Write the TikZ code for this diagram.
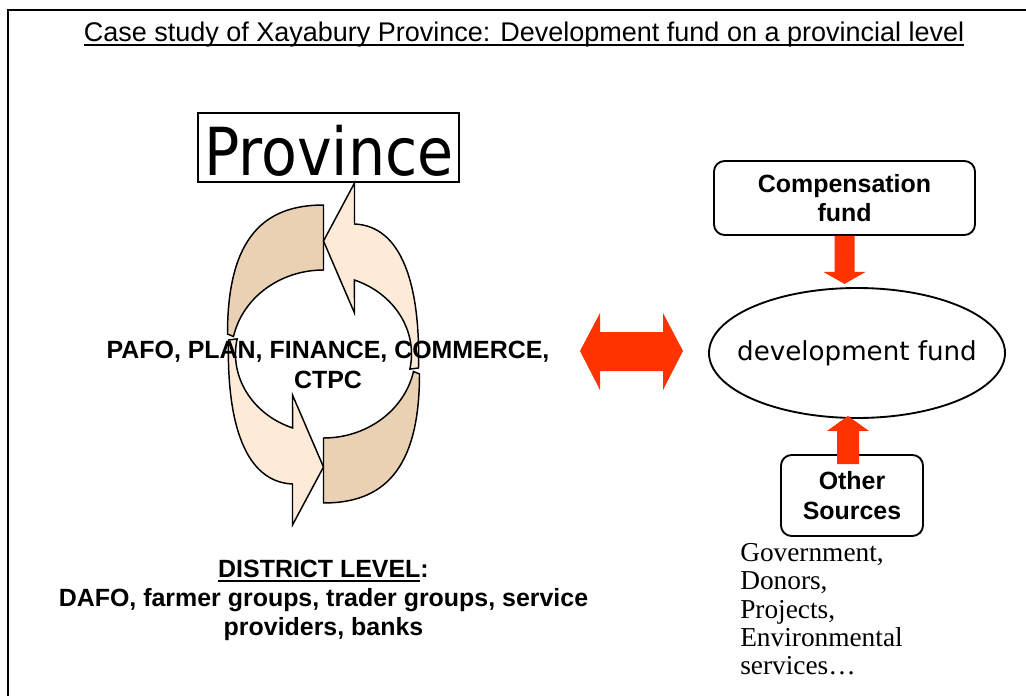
\documentclass[tikz,border=0pt]{standalone}
\usepackage{fontspec}
\setmainfont{Liberation Serif}
\setsansfont{Liberation Sans}
\newfontfamily\provfont[FakeStretch=0.885]{DejaVu Sans}
\newfontfamily\fundfont{DejaVu Sans}
\usetikzlibrary{positioning, calc, shapes.geometric}
\definecolor{loopdark}{HTML}{EAD1B3}
\definecolor{looplight}{HTML}{FDEBD7}
\definecolor{fundred}{HTML}{FF3300}
\newcommand{\ulbar}[1]{\setbox0=\hbox{#1}\rlap{\rule[-3.4pt]{\wd0}{1.3pt}}\box0}

\begin{document}
\begin{tikzpicture}[x=0.75pt, y=-0.75pt,
    every node/.style={inner sep=0pt},
    titletext/.style={font=\sffamily\fontsize{20.25}{24}\selectfont},
    boldtext/.style={font=\sffamily\bfseries\fontsize{18.7}{22}\selectfont, align=center},
    srctext/.style={font=\rmfamily\fontsize{20.5}{21.3}\selectfont, align=left},
    provbox/.style={draw, line width=1.5pt, font=\provfont\fontsize{49.7}{50}\selectfont,
                    text height=46.5pt, text depth=5.25pt, minimum width=195.75pt},
    fundbox/.style={draw, line width=1.4pt, rounded corners=8pt, boldtext},
    band/.style={draw, line width=1.1pt},
    fatarrow/.style={fill=fundred},
  ]
  \useasboundingbox (0,0) rectangle (1026,696);
  % Frame
  \draw[line width=1.5pt] (8,696) -- (8,10) -- (1026,10);

  % Title
  \node[titletext, anchor=base] (title) at (524,41.5)
    {\ulbar{Case study of Xayabury Province: Development fund on a provincial level}};

  % Province cycle
  \coordinate (cyc) at (323.5,354);
  \foreach \turn in {0,180} {
    \begin{scope}[shift={(cyc)}, rotate=\turn]
      \filldraw[band, fill=loopdark] (0,-149)
        .. controls (-58,-149) and (-96,-118) .. (-96,-20)
        -- (192:92 and 84)
        arc[start angle=192, end angle=270, x radius=92, y radius=84] -- cycle;
      \filldraw[band, fill=looplight] (-95,-14)
        .. controls (-97,70) and (-78,128) .. (-31,130)
        -- (-31,171) -- (0,113) -- (-31,41) -- (110.6:88 and 79)
        arc[start angle=110.6, end angle=191, x radius=88, y radius=79] -- cycle;
    \end{scope}
  }
  \node[provbox, anchor=base] (prov) at (328.8,175) {Province};
  \node[boldtext, font=\sffamily\bfseries\fontsize{18.7}{22.5}\selectfont] (agencies) at (328,365)
    {PAFO, PLAN, FINANCE, COMMERCE,\\CTPC};
  \node[boldtext, font=\sffamily\bfseries\fontsize{18.7}{21.75}\selectfont] (district) at (323.5,600)
    {\ulbar{DISTRICT LEVEL}:\\DAFO, farmer groups, trader groups, service\\providers, banks};

  % Fund side
  \node[ellipse, draw, line width=1.4pt, inner xsep=-12pt, minimum width=222pt, minimum height=97.5pt,
        font=\fundfont\fontsize{19.6}{22}\selectfont] (dev) at (857,353) {development fund};
  \node[fundbox, minimum width=195.75pt, minimum height=55.5pt] (comp) at (844.5,198)
    {Compensation\\fund};
  \node[fundbox, minimum width=106.5pt, minimum height=60.75pt] (os) at (852,495.5)
    {Other\\Sources};
  \node[srctext, anchor=north west] (examples) at (740,543)
    {Government,\\Donors,\\Projects,\\Environmental\\services\ldots};

  % Red arrows
  \fill[fatarrow] ($(comp.south)+(-10,0)$) -- ++(0,36) -- ++(-11,0)
    -- ($(comp.south)+(0,48)$) -- ($(comp.south)+(21,36)$) -- ++(-11,0)
    -- ($(comp.south)+(10,0)$) -- cycle;
  \coordinate (upfoot) at ($(os.north)+(-4,10)$);
  \fill[fatarrow] ($(upfoot)+(-11,0)$) -- ($(upfoot |- dev.south)+(-11,12)$) -- ++(-10,0)
    -- ($(upfoot |- dev.south)+(0,-3)$) -- ($(upfoot |- dev.south)+(21,12)$) -- ++(-10,0)
    -- ($(upfoot)+(11,0)$) -- cycle;
  \coordinate (dbl-l) at (580,351);
  \coordinate (dbl-r) at (683,351);
  \fill[fatarrow] (dbl-l) -- ++(20,-38) -- ++(0,19) -- ($(dbl-r)+(-20,-19)$) -- ++(0,-19)
    -- (dbl-r) -- ++(-20,39) -- ++(0,-19) -- ($(dbl-l)+(20,20)$) -- ++(0,19) -- cycle;
\end{tikzpicture}
\end{document}
